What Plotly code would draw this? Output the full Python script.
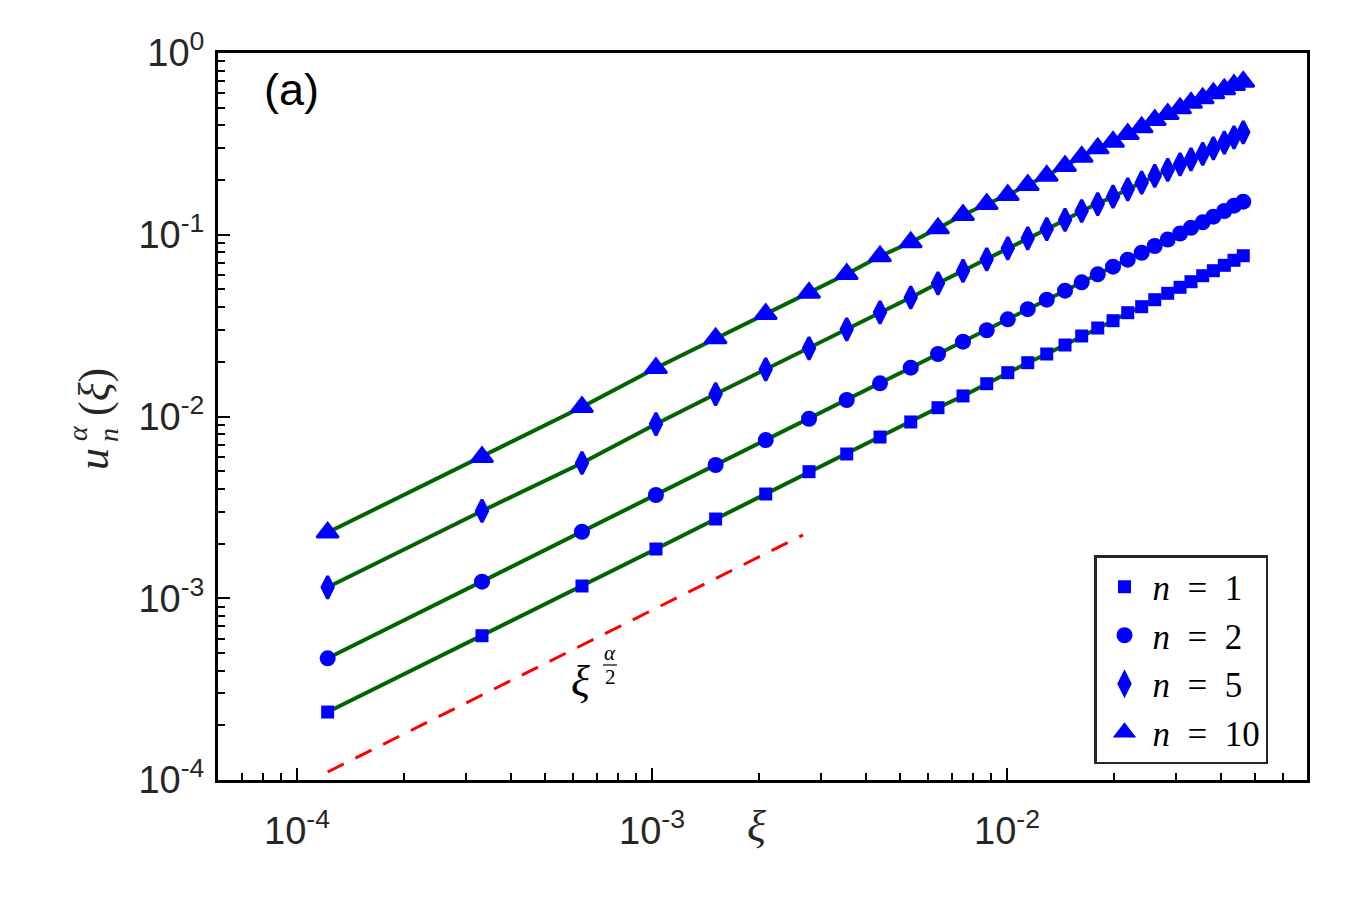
import math
import plotly.graph_objects as go

# ---- data ----
xi = [1.22e-4, 3.32e-4, 6.35e-4, 1.026e-3, 1.511e-3, 2.091e-3, 2.769e-3, 3.536e-3,
      4.388e-3, 5.356e-3, 6.391e-3, 7.517e-3, 8.767e-3, 0.01005, 0.01144, 0.01294,
      0.01457, 0.01623, 0.01801, 0.01989, 0.02188, 0.02395, 0.02607, 0.02836,
      0.03072, 0.03298, 0.03558, 0.03813, 0.04093, 0.04359, 0.04629]

u_n1 = [2.366e-4, 6.22e-4, 1.168e-3, 1.866e-3, 2.729e-3, 3.746e-3, 4.97e-3, 6.22e-3,
        7.71e-3, 9.33e-3, 0.01118, 0.01297, 0.01515, 0.01742, 0.01977, 0.02207,
        0.02474, 0.02773, 0.03068, 0.03366, 0.03725, 0.04020, 0.04392, 0.04763,
        0.05139, 0.05516, 0.05952, 0.06342, 0.06789, 0.07234, 0.07667]

u_n2 = [4.673e-4, 1.234e-3, 2.323e-3, 3.699e-3, 5.409e-3, 7.42e-3, 9.72e-3, 0.01233,
        0.01523, 0.01856, 0.02207, 0.02580, 0.02983, 0.03426, 0.03896, 0.04391,
        0.04922, 0.05474, 0.06059, 0.06672, 0.07289, 0.07964, 0.08672, 0.09417,
        0.1016, 0.1093, 0.1171, 0.1257, 0.1351, 0.1445, 0.1520]

u_n5 = [1.149e-3, 3.021e-3, 5.548e-3, 9.09e-3, 0.01329, 0.01818, 0.02372, 0.03018,
        0.03744, 0.04516, 0.05405, 0.06318, 0.07326, 0.08422, 0.09559, 0.1075,
        0.1206, 0.1351, 0.1476, 0.1620, 0.1779, 0.1934, 0.2106, 0.2272,
        0.2442, 0.2602, 0.2782, 0.2990, 0.3210, 0.3438, 0.3663]

u_n10 = [2.300e-3, 5.99e-3, 0.01128, 0.01849, 0.02694, 0.03664, 0.04800, 0.06081,
         0.07609, 0.09099, 0.1085, 0.1285, 0.1476, 0.1655, 0.1878, 0.2113,
         0.2389, 0.2688, 0.2990, 0.3251, 0.3584, 0.3903, 0.4280, 0.4618,
         0.4962, 0.5328, 0.5633, 0.6003, 0.6315, 0.6668, 0.6953]

ref_x = [1.22e-4, 2.663e-3]
ref_y = [1.107e-4, 2.23e-3]

series_names = ["<i>n</i>\u2002=\u20021", "<i>n</i>\u2002=\u20022",
                "<i>n</i>\u2002=\u20025", "<i>n</i>\u2002=\u200210"]
series_values = [u_n1, u_n2, u_n5, u_n10]

x_tickvals = [1e-4, 1e-3, 1e-2]
x_ticktext = ["10<sup>-4</sup>", "10<sup>-3</sup>", "10<sup>-2</sup>"]
y_tickvals = [1e-4, 1e-3, 1e-2, 1e-1, 1]
y_ticktext = ["10<sup>-4</sup>", "10<sup>-3</sup>", "10<sup>-2</sup>",
              "10<sup>-1</sup>", "10<sup>0</sup>"]

# ---- styles ----
symbols = ["square", "circle", "diamond-tall", "triangle-up"]
sizes = [13, 16, 16, 19]
edge = [0, 0, 3, 2.5]
BLUE = "rgb(0,0,255)"
GREEN = "rgb(0,100,0)"
TXT = "#262626"

fig = go.Figure()

# green solid lines (no legend)
for vals in series_values:
    fig.add_trace(go.Scatter(x=xi, y=vals, mode="lines",
                             line=dict(color=GREEN, width=4),
                             showlegend=False, hoverinfo="skip"))

# red dashed reference line
fig.add_trace(go.Scatter(x=ref_x, y=ref_y, mode="lines",
                         line=dict(color="rgb(255,0,0)", width=3, dash="18px,13px"),
                         showlegend=False, hoverinfo="skip"))

# markers
for i, (name, vals) in enumerate(zip(series_names, series_values)):
    fig.add_trace(go.Scatter(x=xi, y=vals, mode="markers", name=name,
                             legendgroup=f"g{i}",
                             marker=dict(symbol=symbols[i], size=sizes[i], color=BLUE,
                                         line=dict(width=edge[i], color=BLUE))))

# minor tick positions
x_minor = [d * 10.0 ** e for e in (-5, -4, -3, -2) for d in range(2, 10)]
y_minor = [d * 10.0 ** e for e in (-4, -3, -2, -1) for d in range(2, 10)]

L, R, T, B = 218, 1307, 53, 780
W, H = 1360, 907

def px(xp):
    return (xp - L) / (R - L)

def py(yp):
    return (B - yp) / (B - T)

tickfont = dict(family="Liberation Sans, Arial, sans-serif", size=38, color=TXT)

fig.update_xaxes(type="log", range=[-4.2225, -1.155],
                 tickmode="array", tickvals=x_tickvals, ticktext=x_ticktext,
                 ticks="inside", ticklen=12, tickwidth=2, tickcolor="black",
                 minor=dict(tickvals=x_minor, ticks="inside", ticklen=7,
                            tickwidth=2, tickcolor="black", showgrid=False),
                 showline=True, linecolor="black", linewidth=3, mirror=True,
                 showgrid=False, zeroline=False, tickfont=tickfont,
                 ticklabelstandoff=15)
fig.update_yaxes(type="log", range=[-4, 0],
                 tickmode="array", tickvals=y_tickvals, ticktext=y_ticktext,
                 ticks="inside", ticklen=12, tickwidth=2, tickcolor="black",
                 minor=dict(tickvals=y_minor, ticks="inside", ticklen=7,
                            tickwidth=2, tickcolor="black", showgrid=False),
                 showline=True, linecolor="black", linewidth=3, mirror=True,
                 showgrid=False, zeroline=False, tickfont=tickfont,
                 ticklabelstandoff=3)

serif = "Liberation Serif, Times New Roman, serif"

def ann(text, x, y, size, family=serif, color="black", angle=0):
    return dict(text=text, x=px(x), y=py(y), xref="paper", yref="paper",
                xanchor="center", yanchor="middle", showarrow=False,
                textangle=angle, font=dict(family=family, size=size, color=color))

annotations = [
    ann("(a)", 291, 90, 45, family="Liberation Sans, Arial"),
    ann("<i>ξ</i>", 756, 826, 44, color=TXT),
    # y-axis label u_n^alpha(xi), rotated
    ann("<i>u</i>", 93, 459, 44, color=TXT, angle=-90),
    ann("<i>α</i>", 77, 433, 28, color=TXT, angle=-90),
    ann("<i>n</i>", 109, 435, 28, color=TXT, angle=-90),
    ann("(<i>ξ</i>)", 94, 392, 44, color=TXT, angle=-90),
    # slope label xi^(alpha/2)
    ann("<i>ξ</i>", 580, 681, 44),
    ann("<i>α</i>", 610, 653, 21),
    ann("2", 610, 677, 21),
]

shapes = [dict(type="line", xref="paper", yref="paper",
               x0=px(603), x1=px(617), y0=py(665), y1=py(665),
               line=dict(color="black", width=1.2))]

fig.update_layout(
    width=W, height=H,
    margin=dict(l=L, r=W - R, t=T, b=H - B),
    paper_bgcolor="white", plot_bgcolor="white",
    annotations=annotations, shapes=shapes,
    legend=dict(x=px(1094), y=py(555), xanchor="left", yanchor="top",
                bgcolor="white", bordercolor=TXT, borderwidth=2.5,
                font=dict(family=serif, size=35, color="black"),
                traceorder="grouped", tracegroupgap=0, itemwidth=46),
)

fig.write_html("out.html", config={"displayModeBar": False},
               post_script="document.body.style.margin='0';")
